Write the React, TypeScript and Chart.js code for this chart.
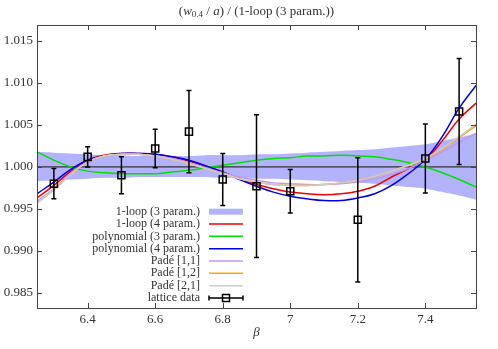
import React, { useEffect, useRef } from 'react';
import { Chart, registerables } from 'chart.js';
Chart.register(...registerables);

// ---------------- data ----------------
const betaGrid = [6.25, 6.30, 6.35, 6.40, 6.45, 6.50, 6.55, 6.60, 6.65, 6.70, 6.75, 6.80, 6.85, 6.90, 6.95, 7.00, 7.05, 7.10, 7.15, 7.20, 7.25, 7.30, 7.35, 7.40, 7.45, 7.50, 7.55];

const oneLoop3Upper = [1.0018, 1.0017, 1.0016, 1.0015, 1.0014, 1.0014, 1.0013, 1.0013, 1.0013, 1.0013, 1.0014, 1.0014, 1.0014, 1.0015, 1.0015, 1.0016, 1.0017, 1.0018, 1.0019, 1.0020, 1.0021, 1.0023, 1.0025, 1.0027, 1.0031, 1.0035, 1.0040];
const oneLoop3Lower = [0.9983, 0.9984, 0.9985, 0.9986, 0.9987, 0.9987, 0.9988, 0.9988, 0.9988, 0.9988, 0.9988, 0.9987, 0.9987, 0.9986, 0.9986, 0.9985, 0.9984, 0.9983, 0.9982, 0.9981, 0.9980, 0.9978, 0.9976, 0.9974, 0.9970, 0.9966, 0.9961];
const oneLoop4 = [0.9963, 0.9978, 0.9995, 1.0008, 1.0014, 1.0016, 1.0016, 1.0015, 1.0012, 1.0007, 1.0001, 0.9994, 0.9986, 0.9979, 0.9974, 0.9970, 0.9968, 0.9967, 0.9968, 0.9971, 0.9977, 0.9988, 0.9998, 1.0009, 1.0031, 1.0057, 1.0076];
const poly3 = [1.0018, 1.0008, 1.0000, 0.9995, 0.9993, 0.9992, 0.9992, 0.9992, 0.9994, 0.9996, 0.9999, 1.0002, 1.0005, 1.0008, 1.0010, 1.0011, 1.0013, 1.0013, 1.0014, 1.0013, 1.0012, 1.0009, 1.0005, 1.0000, 0.9993, 0.9985, 0.9976];
const poly4 = [0.9968, 0.9982, 0.9997, 1.0008, 1.0013, 1.0016, 1.0016, 1.0015, 1.0012, 1.0008, 1.0001, 0.9994, 0.9985, 0.9977, 0.9970, 0.9965, 0.9962, 0.9960, 0.9960, 0.9963, 0.9968, 0.9978, 0.9992, 1.0009, 1.0036, 1.0070, 1.0097];
const pade11 = [0.9959, 0.9974, 0.9992, 1.0006, 1.0013, 1.0015, 1.0015, 1.0013, 1.0010, 1.0005, 0.9999, 0.9993, 0.9988, 0.9984, 0.9981, 0.9980, 0.9979, 0.9979, 0.9980, 0.9982, 0.9986, 0.9991, 0.9998, 1.0008, 1.0018, 1.0029, 1.0040];
const pade12 = [0.9957, 0.9973, 0.9991, 1.0006, 1.0013, 1.0015, 1.0015, 1.0013, 1.0009, 1.0004, 0.9998, 0.9992, 0.9986, 0.9982, 0.9979, 0.9978, 0.9978, 0.9979, 0.9981, 0.9984, 0.9989, 0.9995, 1.0002, 1.0010, 1.0021, 1.0035, 1.0049];
const pade21 = [0.9957, 0.9973, 0.9991, 1.0006, 1.0013, 1.0015, 1.0015, 1.0013, 1.0009, 1.0004, 0.9998, 0.9992, 0.9986, 0.9982, 0.9979, 0.9978, 0.9978, 0.9979, 0.9981, 0.9984, 0.9989, 0.9995, 1.0002, 1.0010, 1.0022, 1.0036, 1.0051];

const latticeBeta = [6.3, 6.4, 6.5, 6.6, 6.7, 6.8, 6.9, 7.0, 7.2, 7.4, 7.5];
const latticeValue = [0.9980, 1.0012, 0.9990, 1.0022, 1.0042, 0.9985, 0.9977, 0.9971, 0.9937, 1.0010, 1.0066];
const latticeError = [0.0018, 0.0012, 0.0022, 0.0023, 0.0049, 0.0031, 0.0085, 0.0026, 0.0074, 0.0041, 0.0063];

const xRange = [6.25, 7.55];
const yRange = [0.9832, 1.0169];
const xTickValues = [6.4, 6.6, 6.8, 7.0, 7.2, 7.4];
const xTickLabels = ['6.4', '6.6', '6.8', '7', '7.2', '7.4'];
const yTickValues = [0.985, 0.990, 0.995, 1.000, 1.005, 1.010, 1.015];
const yTickLabels = ['0.985', '0.990', '0.995', '1.000', '1.005', '1.010', '1.015'];
const referenceLevel = 1.0;

const legendLabels = ['1-loop (3 param.)', '1-loop (4 param.)', 'polynomial (3 param.)', 'polynomial (4 param.)', 'Padé [1,1]', 'Padé [1,2]', 'Padé [2,1]', 'lattice data'];
const xAxisTitle = 'β';

// ---------------- styles ----------------
const FAM = "'Liberation Serif', 'Times New Roman', serif";
const BAND = 'rgb(179,179,252)';
const RED = '#f00000';
const GREEN = '#00e000';
const BLUE = '#0000f0';
const PURPLE = '#c096f8';
const ORANGE = '#ffa500';
const GRAY = '#cccccc';
const TEXT = '#333333';
const FRAME = '#444444';
const legendColors = [BAND, RED, GREEN, BLUE, PURPLE, ORANGE, GRAY, '#000'];

const pts = (ys: number[]) => ys.map((y, i) => ({ x: betaGrid[i], y }));

const decorPlugin = {
  id: 'decor',
  beforeDatasetDraw(chart: any, args: any) {
    const ds = chart.data.datasets[args.index];
    if (ds.label !== 'lattice data') return;
    const ctx = chart.ctx;
    const xs = chart.scales.x;
    const ys = chart.scales.y;
    ctx.save();
    ctx.strokeStyle = '#000';
    ctx.lineWidth = 1.5;
    latticeBeta.forEach((b, i) => {
      const px = xs.getPixelForValue(b);
      const top = ys.getPixelForValue(latticeValue[i] + latticeError[i]);
      const bot = ys.getPixelForValue(latticeValue[i] - latticeError[i]);
      ctx.beginPath();
      ctx.moveTo(px, top);
      ctx.lineTo(px, bot);
      ctx.moveTo(px - 2.5, top);
      ctx.lineTo(px + 2.5, top);
      ctx.moveTo(px - 2.5, bot);
      ctx.lineTo(px + 2.5, bot);
      ctx.stroke();
    });
    ctx.restore();
  },
  afterDraw(chart: any) {
    const ctx = chart.ctx;
    const ca = chart.chartArea;
    const xs = chart.scales.x;
    const ys = chart.scales.y;
    ctx.save();
    // frame
    ctx.strokeStyle = FRAME;
    ctx.lineWidth = 1;
    ctx.strokeRect(Math.round(ca.left) + 0.5, Math.round(ca.top) + 0.5, Math.round(ca.right - ca.left), Math.round(ca.bottom - ca.top));
    // inward ticks
    ctx.beginPath();
    xTickValues.forEach((v) => {
      const px = Math.round(xs.getPixelForValue(v)) + 0.5;
      ctx.moveTo(px, ca.bottom);
      ctx.lineTo(px, ca.bottom - 5);
      ctx.moveTo(px, ca.top);
      ctx.lineTo(px, ca.top + 5);
    });
    yTickValues.forEach((v) => {
      const py = Math.round(ys.getPixelForValue(v)) + 0.5;
      ctx.moveTo(ca.left, py);
      ctx.lineTo(ca.left + 5, py);
      ctx.moveTo(ca.right, py);
      ctx.lineTo(ca.right - 5, py);
    });
    ctx.stroke();

    // title
    const segs = [
      { t: '(', f: `13px ${FAM}`, dy: 0 },
      { t: 'w', f: `italic 13px ${FAM}`, dy: 0 },
      { t: '0.4', f: `9px ${FAM}`, dy: 3 },
      { t: ' / ', f: `13px ${FAM}`, dy: 0 },
      { t: 'a', f: `italic 13px ${FAM}`, dy: 0 },
      { t: ') / (1-loop (3 param.))', f: `13px ${FAM}`, dy: 0 },
    ];
    let total = 0;
    segs.forEach((s) => { ctx.font = s.f; total += ctx.measureText(s.t).width; });
    let cx = (ca.left + ca.right) / 2 - total / 2;
    ctx.fillStyle = TEXT;
    ctx.textBaseline = 'middle';
    ctx.textAlign = 'left';
    segs.forEach((s) => {
      ctx.font = s.f;
      ctx.fillText(s.t, cx, 12 + s.dy);
      cx += ctx.measureText(s.t).width;
    });

    // x axis title
    ctx.font = `italic 13px ${FAM}`;
    ctx.textAlign = 'center';
    ctx.fillText(xAxisTitle, (ca.left + ca.right) / 2, ca.bottom + 25);

    // legend
    const rowH = 12.33;
    const textRight = ca.left + 163;
    const sx0 = ca.left + 172;
    const sx1 = ca.left + 206;
    const y0 = ca.bottom - 10 - rowH * (legendLabels.length - 1);
    ctx.font = `12px ${FAM}`;
    ctx.textAlign = 'right';
    legendLabels.forEach((lab, i) => {
      const y = y0 + i * rowH;
      ctx.fillStyle = TEXT;
      ctx.fillText(lab, textRight, y);
      if (i === 0) {
        ctx.fillStyle = legendColors[0];
        ctx.fillRect(sx0, y - 3, sx1 - sx0, 6);
      } else if (i === legendLabels.length - 1) {
        ctx.strokeStyle = '#000';
        ctx.lineWidth = 1.5;
        ctx.beginPath();
        ctx.moveTo(sx0, y); ctx.lineTo(sx1, y);
        ctx.moveTo(sx0, y - 2.5); ctx.lineTo(sx0, y + 2.5);
        ctx.moveTo(sx1, y - 2.5); ctx.lineTo(sx1, y + 2.5);
        ctx.stroke();
        const mx = (sx0 + sx1) / 2;
        ctx.strokeRect(mx - 3.5, y - 3.5, 7, 7);
      } else {
        ctx.strokeStyle = legendColors[i];
        ctx.lineWidth = 1.5;
        ctx.beginPath();
        ctx.moveTo(sx0, y); ctx.lineTo(sx1, y);
        ctx.stroke();
      }
    });
    ctx.restore();
  },
};

export default function App() {
  const ref = useRef<HTMLCanvasElement>(null);
  useEffect(() => {
    const canvas = ref.current;
    if (!canvas) return;
    const curve = (label: string, data: number[], color: string, order: number) => ({
      label,
      data: pts(data),
      borderColor: color,
      backgroundColor: color,
      borderWidth: 1.5,
      pointRadius: 0,
      fill: false,
      tension: 0.4,
      order,
    });
    const chart = new Chart(canvas, {
      type: 'line',
      data: {
        datasets: [
          { label: 'band upper', data: pts(oneLoop3Upper), borderWidth: 0, borderColor: 'rgba(0,0,0,0)', backgroundColor: BAND, fill: '+1', pointRadius: 0, tension: 0.4, order: 20 },
          { label: 'band lower', data: pts(oneLoop3Lower), borderWidth: 0, borderColor: 'rgba(0,0,0,0)', backgroundColor: BAND, fill: false, pointRadius: 0, tension: 0.4, order: 21 },
          { label: 'unity', data: [{ x: xRange[0], y: referenceLevel }, { x: xRange[1], y: referenceLevel }], borderColor: '#333', borderWidth: 1.3, pointRadius: 0, fill: false, order: 15 },
          curve('1-loop (4 param.)', oneLoop4, RED, 10),
          curve('polynomial (3 param.)', poly3, GREEN, 9),
          curve('polynomial (4 param.)', poly4, BLUE, 8),
          curve('Padé [1,1]', pade11, PURPLE, 7),
          curve('Padé [1,2]', pade12, ORANGE, 6),
          curve('Padé [2,1]', pade21, GRAY, 5),
          {
            label: 'lattice data',
            data: latticeBeta.map((b, i) => ({ x: b, y: latticeValue[i] })),
            showLine: false,
            pointStyle: 'rect',
            pointRadius: 5,
            borderColor: '#000',
            borderWidth: 1.5,
            backgroundColor: 'rgba(0,0,0,0)',
            order: 0,
          },
        ],
      } as any,
      options: {
        animation: false,
        responsive: false,
        maintainAspectRatio: false,
        layout: { padding: { left: 0, right: 22, top: 25, bottom: 0 } },
        plugins: { legend: { display: false }, tooltip: { enabled: false }, title: { display: false } },
        scales: {
          x: {
            type: 'linear',
            min: xRange[0],
            max: xRange[1],
            grid: { display: false, drawTicks: false },
            border: { display: false },
            afterBuildTicks: (s: any) => { s.ticks = xTickValues.map((v) => ({ value: v })); },
            afterFit: (s: any) => { s.height = 41; },
            ticks: {
              callback: (_v: any, i: number) => xTickLabels[i],
              font: { family: FAM, size: 13 },
              color: TEXT,
              padding: 4,
              maxRotation: 0,
              autoSkip: false,
            },
          },
          y: {
            type: 'linear',
            min: yRange[0],
            max: yRange[1],
            grid: { display: false, drawTicks: false },
            border: { display: false },
            afterBuildTicks: (s: any) => { s.ticks = yTickValues.map((v) => ({ value: v })); },
            afterFit: (s: any) => { s.width = 37; },
            ticks: {
              callback: (_v: any, i: number) => yTickLabels[i],
              font: { family: FAM, size: 13 },
              color: TEXT,
              padding: 4,
              autoSkip: false,
            },
          },
        },
      } as any,
      plugins: [decorPlugin],
    });
    return () => chart.destroy();
  }, []);
  return (
    <div style={{ position: 'fixed', left: 0, top: 0, width: 498, height: 349, background: '#fff' }}>
      <canvas ref={ref} width={498} height={349} style={{ display: 'block' }} />
    </div>
  );
}
